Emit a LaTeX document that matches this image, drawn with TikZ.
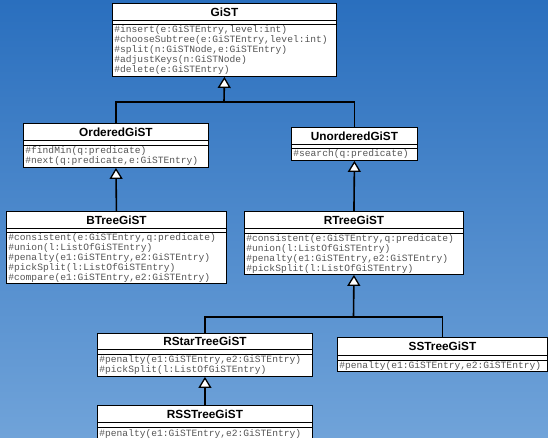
\documentclass[tikz,border=0pt]{standalone}
\usepackage{fontspec}
\newfontfamily\lsans{Liberation Sans}
\newfontfamily\lmono{Liberation Mono}
\usetikzlibrary{arrows.meta}
\definecolor{bgtop}{RGB}{42,111,190}
\definecolor{bgbot}{RGB}{112,163,217}
\definecolor{methgray}{RGB}{85,85,85}
\tikzset{
  ctitle/.style={draw=black, line width=0.9pt, fill=white, anchor=north west, inner sep=0pt,
    font=\lsans\bfseries\fontsize{11.8}{13}\selectfont},
  cattr/.style={draw=black, line width=0.9pt, fill=white, anchor=north west, inner sep=0pt},
  cmeth/.style={draw=black, line width=0.9pt, fill=white, anchor=north west, inner xsep=2pt,
    inner ysep=0.6pt, align=left, text=methgray, font=\lmono\fontsize{9.6}{10}\selectfont},
  conn/.style={line width=1.6pt, draw=black},
  inh/.style={conn, -{Triangle[length=11pt,width=13pt,fill=white,line width=1.3pt]}},
}
\begin{document}
\begin{tikzpicture}[x=1pt,y=-1pt]
\shade[top color=bgtop, bottom color=bgbot] (0,0) rectangle (548,438);
\clip (0,0) rectangle (548,438);
\useasboundingbox (0,0) rectangle (548,438);

% GiST
\node[ctitle, minimum width=224pt, minimum height=17pt] (gist-t) at (112,3) {GiST};
\node[cattr, minimum width=224pt, minimum height=4pt] (gist-a) at (112,20) {};
\node[cmeth, text width=220pt, minimum height=52pt] (gist-m) at (112,24)
 {\#insert(e:GiSTEntry,level:int)\\\#chooseSubtree(e:GiSTEntry,level:int)\\\#split(n:GiSTNode,e:GiSTEntry)\\\#adjustKeys(n:GiSTNode)\\\#delete(e:GiSTEntry)};

% OrderedGiST
\node[ctitle, minimum width=185pt, minimum height=17pt] (ord-t) at (23,123) {OrderedGiST};
\node[cattr, minimum width=185pt, minimum height=5pt] (ord-a) at (23,140) {};
\node[cmeth, text width=181pt, minimum height=22pt] (ord-m) at (23,145)
 {\#findMin(q:predicate)\\\#next(q:predicate,e:GiSTEntry)};

% UnorderedGiST
\node[ctitle, minimum width=126pt, minimum height=17pt] (uno-t) at (291,127) {UnorderedGiST};
\node[cattr, minimum width=126pt, minimum height=4pt] (uno-a) at (291,144) {};
\node[cmeth, text width=122pt, minimum height=12pt] (uno-m) at (291,148)
 {\#search(q:predicate)};

% BTreeGiST
\node[ctitle, minimum width=220pt, minimum height=17pt] (bt-t) at (6,211) {BTreeGiST};
\node[cattr, minimum width=220pt, minimum height=4pt] (bt-a) at (6,228) {};
\node[cmeth, text width=216pt, minimum height=51pt] (bt-m) at (6,232)
 {\#consistent(e:GiSTEntry,q:predicate)\\\#union(l:ListOfGiSTEntry)\\\#penalty(e1:GiSTEntry,e2:GiSTEntry)\\\#pickSplit(l:ListOfGiSTEntry)\\\#compare(e1:GiSTEntry,e2:GiSTEntry)};

% RTreeGiST
\node[ctitle, minimum width=219pt, minimum height=17pt] (rt-t) at (244,211) {RTreeGiST};
\node[cattr, minimum width=219pt, minimum height=5pt] (rt-a) at (244,228) {};
\node[cmeth, text width=215pt, minimum height=41pt] (rt-m) at (244,233)
 {\#consistent(e:GiSTEntry,q:predicate)\\\#union(l:ListOfGiSTEntry)\\\#penalty(e1:GiSTEntry,e2:GiSTEntry)\\\#pickSplit(l:ListOfGiSTEntry)};

% RStarTreeGiST
\node[ctitle, minimum width=215pt, minimum height=16pt] (rs-t) at (97,333) {RStarTreeGiST};
\node[cattr, minimum width=215pt, minimum height=5pt] (rs-a) at (97,349) {};
\node[cmeth, text width=211pt, minimum height=22pt] (rs-m) at (97,354)
 {\#penalty(e1:GiSTEntry,e2:GiSTEntry)\\\#pickSplit(l:ListOfGiSTEntry)};

% SSTreeGiST
\node[ctitle, minimum width=210pt, minimum height=18pt] (ss-t) at (337,337) {SSTreeGiST};
\node[cattr, minimum width=210pt, minimum height=5pt] (ss-a) at (337,355) {};
\node[cmeth, text width=206pt, minimum height=11pt] (ss-m) at (337,360)
 {\#penalty(e1:GiSTEntry,e2:GiSTEntry)};

% RSSTreeGiST
\node[ctitle, minimum width=215pt, minimum height=17pt] (rss-t) at (97,405) {RSSTreeGiST};
\node[cattr, minimum width=215pt, minimum height=5pt] (rss-a) at (97,422) {};
\node[cmeth, text width=211pt, minimum height=14pt] (rss-m) at (97,427)
 {\#penalty(e1:GiSTEntry,e2:GiSTEntry)};

% connectors
\coordinate (j1) at (224,102);
\coordinate (j2) at (353.5,317);
\draw[inh] (j1) -- (gist-m.south);
\draw[conn] (ord-t.north) |- (j1) -| (uno-t.north);
\draw[inh] (bt-t.north) -- (ord-m.south);
\draw[inh] (rt-t.north) -- (uno-m.south);
\draw[inh] (j2) -- (rt-m.south);
\draw[conn] (rs-t.north) |- (j2) -| (ss-t.north);
\draw[inh] (rss-t.north) -- (rs-m.south);
\end{tikzpicture}
\end{document}
